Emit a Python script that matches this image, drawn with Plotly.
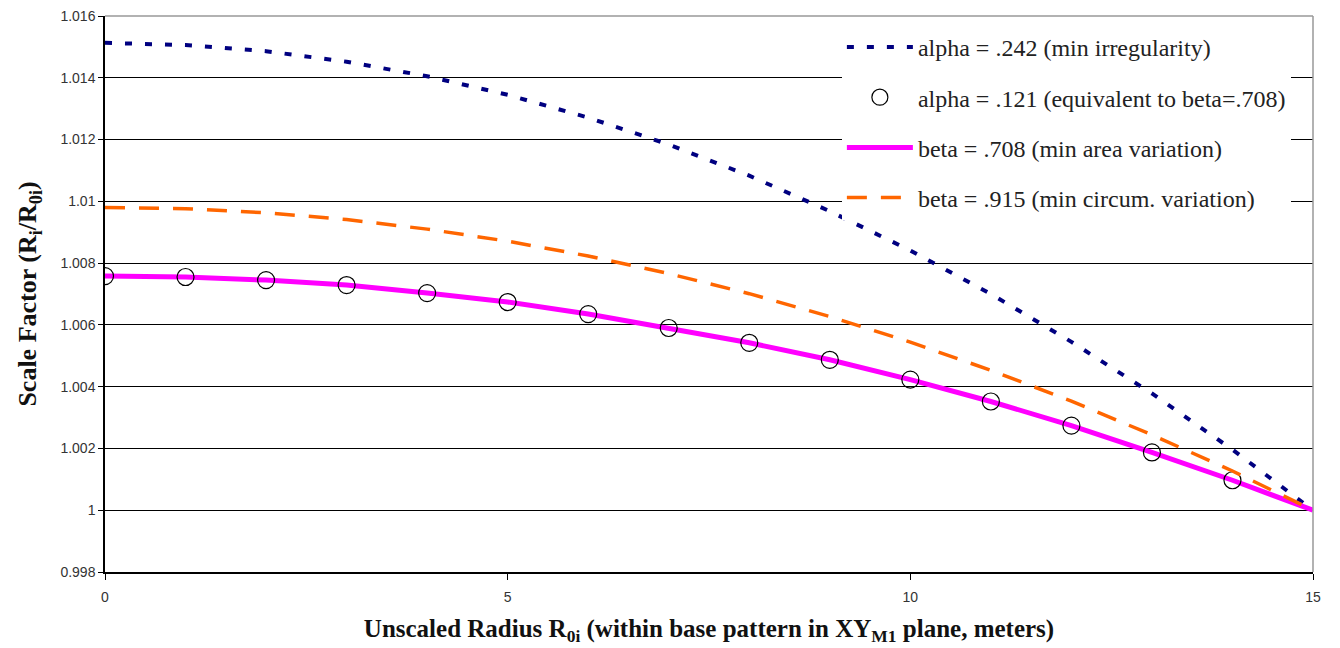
import plotly.graph_objects as go

x_vals = [0, 1, 2, 3, 4, 5, 6, 7, 8, 9, 10, 11, 12, 13, 14, 15]
alpha_242 = [1.01513, 1.01506, 1.01486, 1.01452, 1.01405, 1.01345, 1.01271, 1.01184,
             1.01083, 1.00968, 1.00841, 1.00700, 1.00545, 1.00378, 1.00196, 1.00000]
alpha_121_x = [0, 1, 2, 3, 4, 5, 6, 7, 8, 9, 10, 11, 12, 13, 14]
alpha_121 = [1.00758, 1.00755, 1.00745, 1.00729, 1.00703, 1.00674, 1.00635, 1.00590,
             1.00542, 1.00487, 1.00423, 1.00352, 1.00274, 1.00187, 1.00097]
beta_708 = [1.00758, 1.00755, 1.00745, 1.00729, 1.00703, 1.00674, 1.00635, 1.00590,
            1.00542, 1.00487, 1.00423, 1.00352, 1.00274, 1.00187, 1.00097, 1.00000]
beta_915 = [1.00980, 1.00976, 1.00963, 1.00941, 1.00910, 1.00871, 1.00823, 1.00766,
            1.00701, 1.00627, 1.00544, 1.00453, 1.00353, 1.00244, 1.00127, 1.00000]

y_ticks = [0.998, 1.0, 1.002, 1.004, 1.006, 1.008, 1.01, 1.012, 1.014, 1.016]
y_tick_text = ["0.998", "1", "1.002", "1.004", "1.006", "1.008", "1.01", "1.012", "1.014", "1.016"]
x_ticks = [0, 5, 10, 15]

fig = go.Figure()
fig.add_trace(go.Scatter(
    x=x_vals, y=alpha_242, mode="lines", name="alpha = .242 (min irregularity)",
    line=dict(color="#000080", width=4, dash="7px,13px"), legendgroup="a", legendrank=1))
fig.add_trace(go.Scatter(
    x=x_vals, y=beta_708, mode="lines", name="beta = .708 (min area variation)",
    line=dict(color="#FF00FF", width=5), legendgroup="c", legendrank=3))
fig.add_trace(go.Scatter(
    x=alpha_121_x, y=alpha_121, mode="markers", name="alpha = .121 (equivalent to beta=.708)",
    marker=dict(symbol="circle-open", size=17, color="black", line=dict(width=1.2, color="black")),
    legendgroup="b", legendrank=2))
fig.add_trace(go.Scatter(
    x=x_vals, y=beta_915, mode="lines", name="beta = .915 (min circum. variation)",
    line=dict(color="#FF6600", width=3.5, dash="20px,14px"), legendgroup="d", legendrank=4))

axis_font = dict(family="Liberation Sans, Arial", size=14, color="#333333")
fig.update_layout(
    width=1340, height=648,
    margin=dict(l=97, r=35, t=8, b=84),
    paper_bgcolor="white", plot_bgcolor="white",
    showlegend=True,
    legend=dict(
        x=0.61, y=0.984, xanchor="left", yanchor="top",
        bgcolor="white", borderwidth=0,
        font=dict(family="Liberation Serif, Times New Roman", size=24, color="#222222"),
        itemwidth=66, tracegroupgap=16, traceorder="grouped",
    ),
    xaxis=dict(
        range=[0, 15], tickvals=x_ticks, ticks="outside", ticklen=6, tickcolor="black",
        showgrid=False, zeroline=False, showline=True, linecolor="black", linewidth=1.5,
        tickfont=axis_font, ticklabelstandoff=5, ticklabeloverflow="allow", automargin=False,
        title=dict(text="<b>Unscaled Radius R<sub>0i</sub> (within base pattern in XY<sub>M1</sub> plane, meters)</b>",
                   font=dict(family="Liberation Serif, Times New Roman", size=25, color="#111111"),
                   standoff=16),
    ),
    yaxis=dict(
        range=[0.998, 1.016], tickvals=y_ticks, ticktext=y_tick_text, ticks="outside",
        ticklen=5, tickcolor="black",
        showgrid=True, gridcolor="black", gridwidth=1, zeroline=False,
        showline=True, linecolor="black", linewidth=1.5,
        tickfont=axis_font, ticklabeloverflow="allow", automargin=False,
        title=dict(text="<b>Scale Factor (R<sub>i</sub>/R<sub>0i</sub>)</b>",
                   font=dict(family="Liberation Serif, Times New Roman", size=26, color="#111111"),
                   standoff=16),
    ),
    shapes=[
        dict(type="line", xref="paper", yref="paper", x0=0, x1=1, y0=1, y1=1,
             line=dict(color="#999999", width=1.5)),
        dict(type="line", xref="paper", yref="paper", x0=1, x1=1, y0=0, y1=1,
             line=dict(color="#999999", width=1.5)),
    ],
)

fig.write_html("out.html")
